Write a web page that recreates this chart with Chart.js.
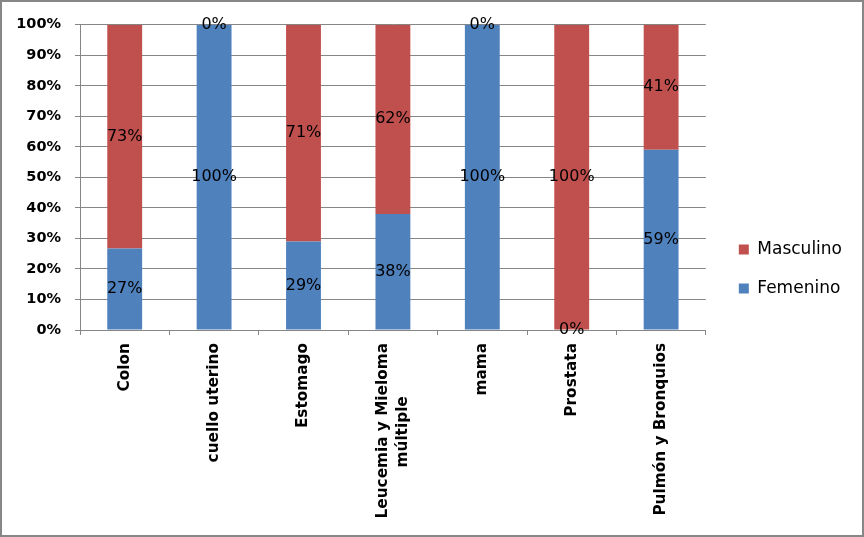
<!DOCTYPE html>
<html>
<head>
<meta charset="utf-8">
<script src="https://cdn.jsdelivr.net/npm/chart.js@4.4.1/dist/chart.umd.min.js"></script>
<style>
  body { margin: 0; background: #fff; }
  #wrap { width: 864px; height: 537px; box-sizing: border-box; border: 2px solid #878787; background: #fff; }
</style>
</head>
<body>
<div id="wrap"><canvas id="chart"></canvas></div>
<script>
const categories = ['Colon', 'cuello uterino', 'Estomago', ['Leucemia y Mieloma', 'múltiple'], 'mama', 'Prostata', 'Pulmón y Bronquios']
const femenino = [26.7, 100, 29, 38, 100, 0, 59]
const masculino = [73.3, 0, 71, 62, 0, 100, 41]
const yMax = 100
const yStep = 10

const blue = '#4F81BD'
const red = '#C0504D'
const gridColor = '#868686'
const xFont = { family: 'DejaVu Sans', size: 15.3, weight: 'bold', lineHeight: 1.35 }

// centre the shorter lines of a multi-line rotated label by padding with spaces
const measure = document.createElement('canvas').getContext('2d')
const centerLines = (label) => {
  if (!Array.isArray(label)) return label
  measure.font = `bold ${xFont.size}px "${xFont.family}"`
  const widths = label.map(l => measure.measureText(l).width)
  const maxW = Math.max(...widths)
  const spaceW = measure.measureText(' ').width
  return label.map((l, i) => l + ' '.repeat(Math.round((maxW - widths[i]) / 2 / spaceW)))
}

// chart.js stacks rotated multi-line labels to one side of the tick, move them back to the middle
const centerTickBlocks = {
  id: 'centerTickBlocks',
  beforeDraw (chart) {
    const scale = chart.scales.x
    const lh = xFont.size * xFont.lineHeight
    scale.getLabelItems().forEach(item => {
      if (Array.isArray(item.label) && !item.centered) {
        item.options.translation[0] -= (item.label.length - 1) * lh / 2
        item.centered = true
      }
    })
  }
}

const barLabels = {
  id: 'barLabels',
  afterDatasetsDraw (chart) {
    const { ctx } = chart
    ctx.save()
    ctx.font = '16px "DejaVu Sans"'
    ctx.fillStyle = '#000'
    ctx.textAlign = 'center'
    ctx.textBaseline = 'middle'
    chart.data.datasets.forEach((ds, di) => {
      chart.getDatasetMeta(di).data.forEach((bar, i) => {
        const y = (bar.y + bar.base) / 2
        ctx.fillText(Math.round(ds.data[i]) + '%', bar.x, y)
      })
    })
    ctx.restore()
  }
}

const ctx = document.getElementById('chart')

const chart = new Chart(ctx, {
  type: 'bar',
  data: {
    labels: categories,
    datasets: [{
      label: 'Femenino',
      data: femenino,
      backgroundColor: blue,
      borderWidth: 0,
      barPercentage: 0.39,
      categoryPercentage: 1
    }, {
      label: 'Masculino',
      data: masculino,
      backgroundColor: red,
      borderWidth: 0,
      barPercentage: 0.39,
      categoryPercentage: 1
    }]
  },
  options: {
    responsive: true,
    maintainAspectRatio: false,
    animation: false,
    layout: {
      padding: { top: 6, bottom: 5, left: 0, right: 10 }
    },
    plugins: {
      tooltip: { enabled: false },
      // empty title only reserves the space above the plot
      title: { display: true, text: '', padding: 0, font: { lineHeight: '16px' } },
      legend: {
        position: 'right',
        reverse: true,
        labels: {
          boxWidth: 10,
          boxHeight: 10,
          padding: 22,
          color: '#000',
          font: { family: 'DejaVu Sans', size: 17 }
        }
      }
    },
    scales: {
      x: {
        stacked: true,
        grid: {
          offset: true,
          drawOnChartArea: false,
          drawTicks: true,
          tickLength: 5,
          color: gridColor
        },
        border: { color: gridColor },
        ticks: {
          autoSkip: false,
          minRotation: 90,
          maxRotation: 90,
          padding: 8,
          color: '#000',
          font: xFont,
          callback: function (value) {
            return centerLines(categories[value])
          }
        },
        afterFit: (s) => { s.height = 200 }
      },
      y: {
        stacked: true,
        min: 0,
        max: yMax,
        grid: {
          color: gridColor,
          tickLength: 5
        },
        border: { color: gridColor },
        ticks: {
          stepSize: yStep,
          padding: 14,
          color: '#000',
          font: { family: 'DejaVu Sans', size: 14.5, weight: 'bold' },
          callback: (v) => v + '%'
        },
        afterFit: (s) => { s.width = 78 }
      },
      gap: {
        type: 'linear',
        position: 'right',
        display: true,
        ticks: { display: false },
        grid: { display: false },
        border: { display: false },
        afterFit: (s) => { s.width = 11 }
      }
    }
  },
  plugins: [barLabels, centerTickBlocks]
});
</script>
</body>
</html>
